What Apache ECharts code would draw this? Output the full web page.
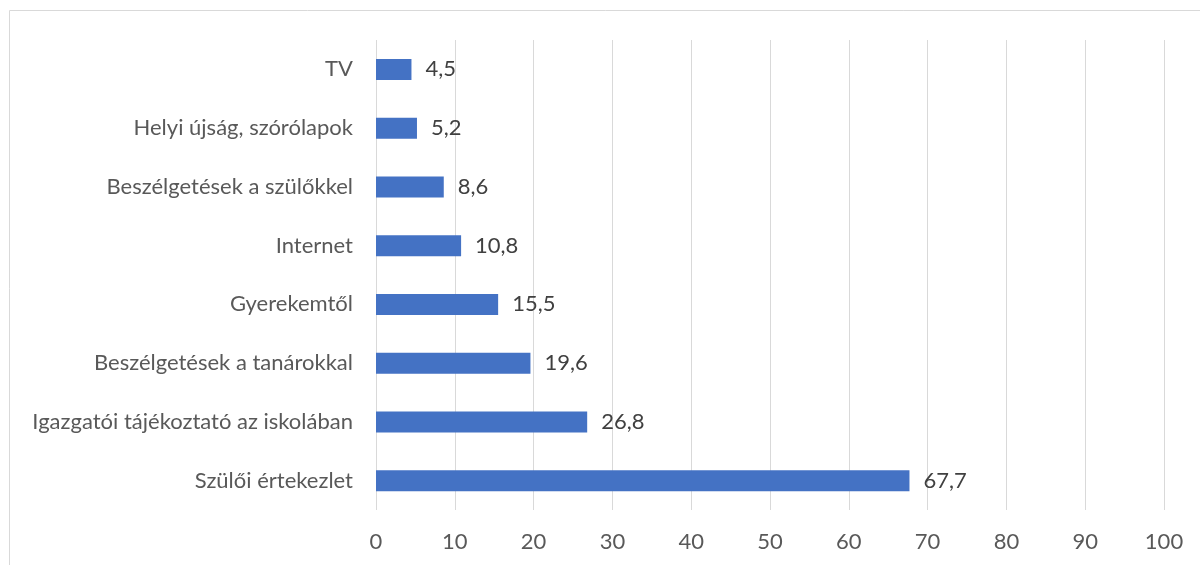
<!DOCTYPE html>
<html>
<head>
<meta charset="utf-8">
<script src="https://cdn.jsdelivr.net/npm/echarts@6/dist/echarts.min.js"></script>
<style>html,body{margin:0;padding:0;background:#fff}#c{width:1200px;height:565px}</style>
</head>
<body>
<div id="c"></div>
<script>
const categories = ["Szülői értekezlet","Igazgatói tájékoztató az iskolában","Beszélgetések a tanárokkal","Gyerekemtől","Internet","Beszélgetések a szülőkkel","Helyi újság, szórólapok","TV"];
const values = [67.7, 26.8, 19.6, 15.5, 10.8, 8.6, 5.2, 4.5];
const xTicks = {min: 0, max: 100, interval: 10};

const font = "Lato, 'Open Sans', sans-serif";
const chart = echarts.init(document.getElementById('c'));
chart.setOption({
  animation: false,
  graphic: [{type:'rect', shape:{x:9.5, y:10.5, width:1300, height:700}, style:{fill:'none', stroke:'#d9d9d9', lineWidth:1}}],
  grid: {left: 376, right: 36, top: 40, bottom: 55},
  xAxis: {
    type: 'value', min: xTicks.min, max: xTicks.max, interval: xTicks.interval,
    axisLine: {show: false}, axisTick: {show: false},
    splitLine: {lineStyle: {color: '#d9d9d9', width: 1}},
    axisLabel: {color: '#595959', fontSize: 22, fontFamily: font, margin: 21}
  },
  yAxis: {
    type: 'category', data: categories,
    axisLine: {show: false}, axisTick: {show: false},
    axisLabel: {color: '#595959', fontSize: 22, fontFamily: font, margin: 23}
  },
  series: [{
    type: 'bar', data: values, barWidth: 21,
    itemStyle: {color: '#4472c4'},
    label: {show: true, position: 'right', distance: 14, color: '#404040', fontSize: 22, fontFamily: font,
      formatter: p => String(p.value).replace('.', ',')}
  }]
});
</script>
</body>
</html>
